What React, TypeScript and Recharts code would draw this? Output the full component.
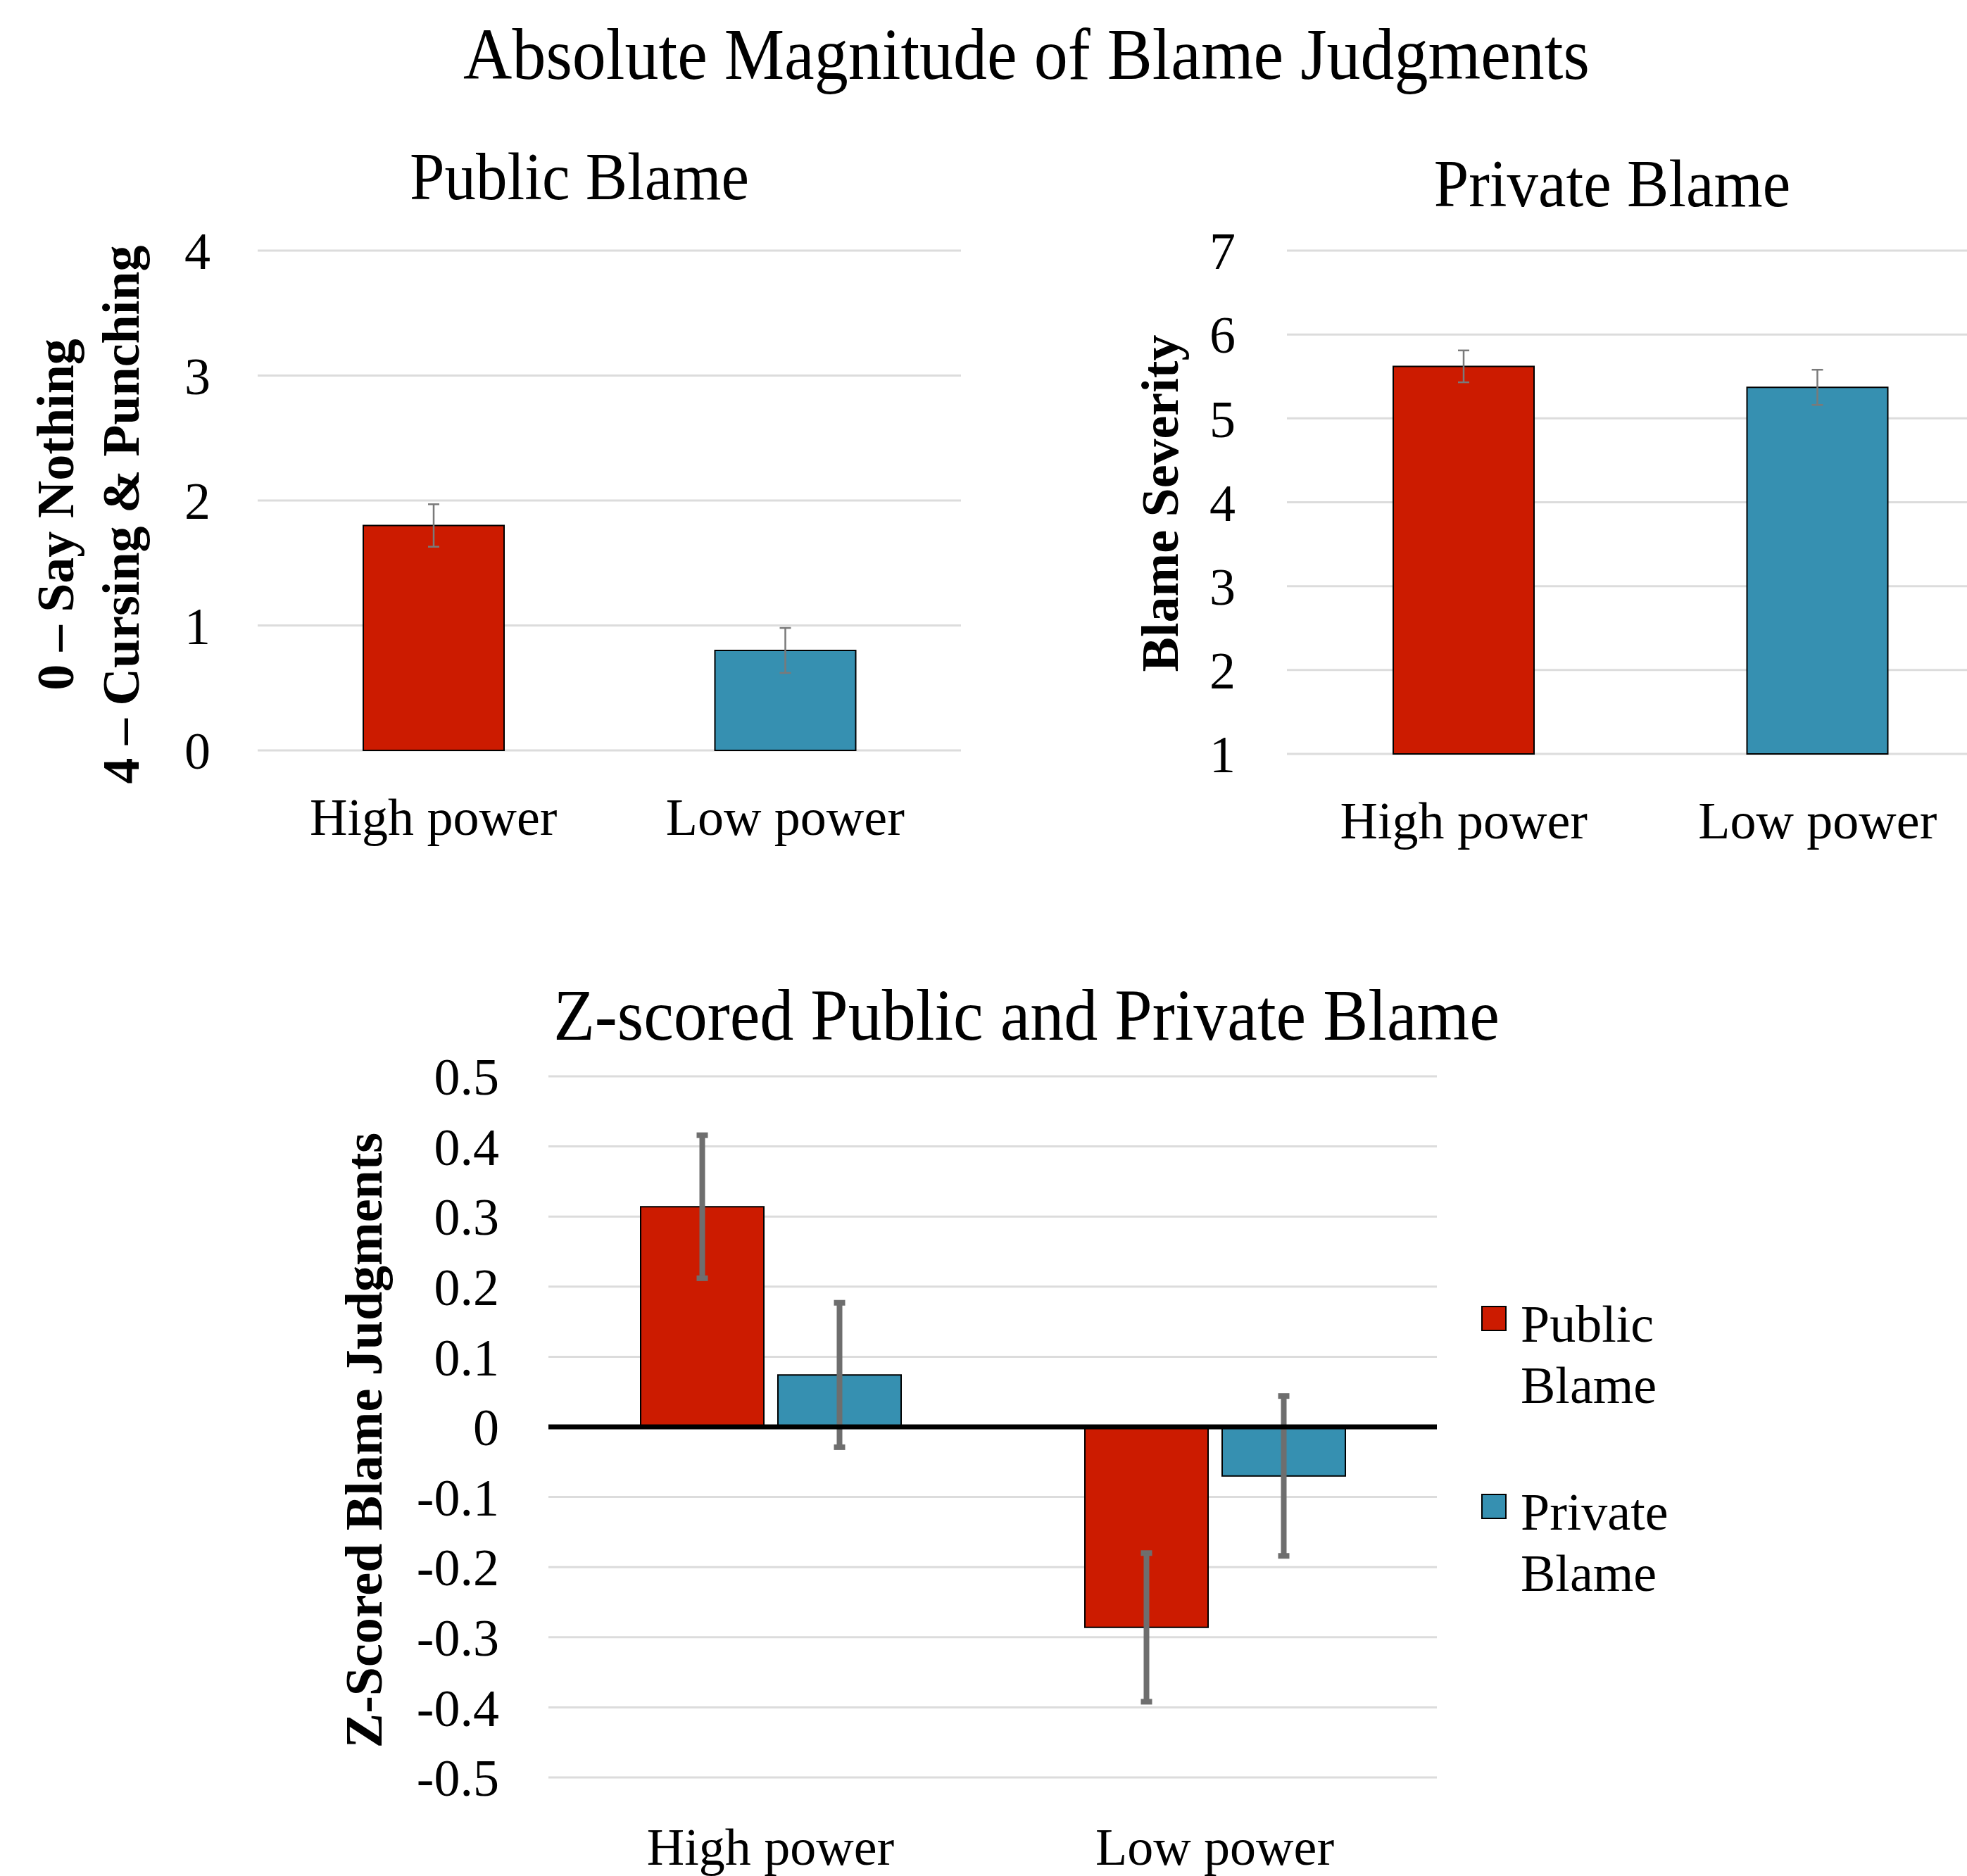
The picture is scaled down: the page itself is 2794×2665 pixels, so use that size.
import { BarChart, Bar, XAxis, YAxis, CartesianGrid, Cell, ErrorBar, ReferenceLine } from "recharts";

const categories = ["High power", "Low power"];
const publicMeans = [1.8, 0.8];
const publicErrors = [0.17, 0.18];
const privateMeans = [5.62, 5.37];
const privateErrors = [0.19, 0.21];
const zPublicMeans = [0.314, -0.286];
const zPublicErrors = [0.102, 0.106];
const zPrivateMeans = [0.074, -0.07];
const zPrivateErrors = [0.103, 0.114];

const publicTicks = [0, 1, 2, 3, 4];
const privateTicks = [1, 2, 3, 4, 5, 6, 7];
const zTicks = [-0.5, -0.4, -0.3, -0.2, -0.1, 0, 0.1, 0.2, 0.3, 0.4, 0.5];
const seriesNames = ["Public Blame", "Private Blame"];

const FONT = "'Liberation Serif', 'Times New Roman', serif";
const RED = "#cc1b00";
const BLUE = "#3690b1";
const barColors = [RED, BLUE];
const tickStyle = { fontFamily: FONT, fontSize: 74, fill: "#000" };

const publicData = categories.map((c, i) => ({ name: c, value: publicMeans[i], err: publicErrors[i] }));
const privateData = categories.map((c, i) => ({ name: c, value: privateMeans[i], err: privateErrors[i] }));
const zData = categories.map((c, i) => ({
  name: c,
  pub: zPublicMeans[i],
  pubErr: zPublicErrors[i],
  priv: zPrivateMeans[i],
  privErr: zPrivateErrors[i],
}));

function Title({ text, cx, cy, size }: { text: string; cx: number; cy: number; size: number }) {
  return (
    <div
      style={{
        position: "absolute",
        left: cx,
        top: cy,
        transform: "translate(-50%, -50%) scaleY(1.08)",
        fontSize: size,
        lineHeight: 1,
        whiteSpace: "nowrap",
        fontFamily: FONT,
        color: "#000",
      }}
    >
      {text}
    </div>
  );
}

function SideLabel({ lines, cx, cy }: { lines: string[]; cx: number; cy: number }) {
  return (
    <div
      style={{
        position: "absolute",
        left: cx,
        top: cy,
        transform: "translate(-50%, -50%) rotate(-90deg)",
        fontSize: 74,
        lineHeight: "93px",
        fontWeight: "bold",
        whiteSpace: "nowrap",
        textAlign: "center",
        fontFamily: FONT,
        color: "#000",
      }}
    >
      {lines.map((l) => (
        <div key={l}>{l}</div>
      ))}
    </div>
  );
}

export default function App() {
  return (
    <div
      style={{
        position: "absolute",
        left: 0,
        top: 0,
        width: 2794,
        height: 2665,
        overflow: "hidden",
        background: "#fff",
        fontFamily: FONT,
      }}
    >
      <Title text="Absolute Magnitude of Blame Judgments" cx={1458} cy={77} size={96} />
      <Title text="Public Blame" cx={823} cy={251} size={89} />
      <Title text="Private Blame" cx={2290} cy={261} size={89} />
      <Title text="Z-scored Public and Private Blame" cx={1458} cy={1442} size={96} />

      <SideLabel lines={["0 – Say Nothing", "4 – Cursing & Punching"]} cx={126} cy={731} />
      <SideLabel lines={["Blame Severity"]} cx={1648} cy={715} />
      <SideLabel lines={["Z-Scored Blame Judgments"]} cx={517} cy={2046} />

      {/* public blame */}
      <div style={{ position: "absolute", left: 0, top: 0 }}>
        <BarChart width={1400} height={1250} data={publicData} margin={{ top: 356, right: 35, left: 0, bottom: 60 }}>
          <CartesianGrid vertical={false} stroke="#dcdcdc" strokeWidth={3} />
          <XAxis dataKey="name" axisLine={false} tickLine={false} height={124} tickMargin={61} tick={tickStyle} />
          <YAxis
            domain={[0, 4]}
            ticks={publicTicks}
            interval={0}
            width={366}
            axisLine={false}
            tickLine={false}
            tickMargin={61}
            tick={tickStyle}
          />
          <Bar dataKey="value" barSize={200} stroke="#000" strokeWidth={2} isAnimationActive={false}>
            {publicData.map((d, i) => (
              <Cell key={d.name} fill={barColors[i]} />
            ))}
            <ErrorBar dataKey="err" width={8} strokeWidth={2.5} stroke="#7a7a7a" isAnimationActive={false} />
          </Bar>
        </BarChart>
      </div>

      {/* private blame */}
      <div style={{ position: "absolute", left: 1400, top: 0, width: 1394, height: 1250, overflow: "hidden" }}>
        <BarChart width={1433} height={1250} data={privateData} margin={{ top: 356, right: 0, left: 0, bottom: 55 }}>
          <CartesianGrid vertical={false} stroke="#dcdcdc" strokeWidth={3} />
          <XAxis dataKey="name" axisLine={false} tickLine={false} height={124} tickMargin={61} tick={tickStyle} />
          <YAxis
            domain={[1, 7]}
            ticks={privateTicks}
            interval={0}
            width={428}
            axisLine={false}
            tickLine={false}
            tickMargin={67}
            tick={tickStyle}
          />
          <Bar dataKey="value" barSize={200} stroke="#000" strokeWidth={2} isAnimationActive={false}>
            {privateData.map((d, i) => (
              <Cell key={d.name} fill={barColors[i]} />
            ))}
            <ErrorBar dataKey="err" width={8} strokeWidth={2.5} stroke="#7a7a7a" isAnimationActive={false} />
          </Bar>
        </BarChart>
      </div>

      {/* z-scored */}
      <div style={{ position: "absolute", left: 0, top: 1300 }}>
        <BarChart
          width={2100}
          height={1365}
          data={zData}
          barGap={20}
          margin={{ top: 229, right: 59, left: 0, bottom: 16 }}
        >
          <CartesianGrid vertical={false} stroke="#dcdcdc" strokeWidth={3} />
          <XAxis dataKey="name" axisLine={false} tickLine={false} height={124} tickMargin={65} tick={tickStyle} />
          <YAxis
            domain={[-0.5, 0.5]}
            ticks={zTicks}
            interval={0}
            width={779}
            axisLine={false}
            tickLine={false}
            tickMargin={64}
            tick={tickStyle}
            tickFormatter={(v: number) => (Math.abs(v) < 1e-9 ? "0" : v.toFixed(1))}
          />
          <Bar dataKey="pub" name={seriesNames[0]} fill={RED} barSize={175} stroke="#000" strokeWidth={2} isAnimationActive={false}>
            <ErrorBar dataKey="pubErr" width={8} strokeWidth={8} stroke="#6e6e6e" isAnimationActive={false} />
          </Bar>
          <Bar dataKey="priv" name={seriesNames[1]} fill={BLUE} barSize={175} stroke="#000" strokeWidth={2} isAnimationActive={false}>
            <ErrorBar dataKey="privErr" width={8} strokeWidth={8} stroke="#6e6e6e" isAnimationActive={false} />
          </Bar>
          <ReferenceLine y={0} stroke="#000" strokeWidth={7} />
        </BarChart>
      </div>

      {/* legend */}
      {seriesNames.map((name, i) => (
        <div key={name} style={{ position: "absolute", left: 2104, top: 1838 + i * 267 }}>
          <div
            style={{
              position: "absolute",
              left: 0,
              top: 17,
              width: 36,
              height: 36,
              background: barColors[i],
              border: "2px solid #000",
              boxSizing: "border-box",
            }}
          />
          <div style={{ position: "absolute", left: 56, top: 0, fontSize: 74, lineHeight: "87px", color: "#000" }}>
            {name.split(" ").map((w) => (
              <div key={w}>{w}</div>
            ))}
          </div>
        </div>
      ))}
    </div>
  );
}
